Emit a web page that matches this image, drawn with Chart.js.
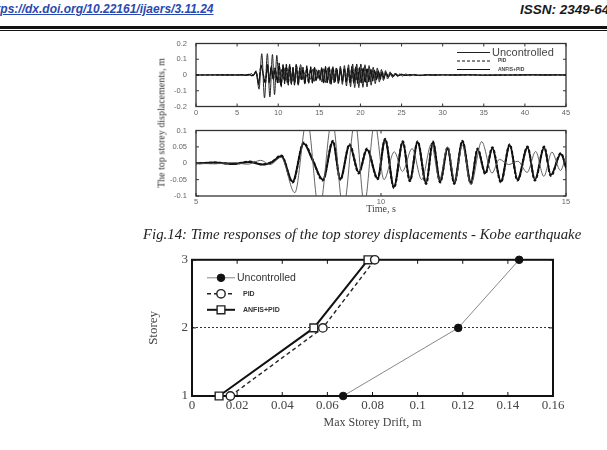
<!DOCTYPE html>
<html>
<head>
<meta charset="utf-8">
<script src="https://cdn.jsdelivr.net/npm/chart.js"></script>
<style>
  html, body { margin: 0; padding: 0; background: #fff; }
  body { width: 607px; height: 450px; position: relative; overflow: hidden; }
  .abs { position: absolute; white-space: nowrap; }
  #doi { left: -15px; top: 2px; font: italic bold 12px 'Liberation Sans', sans-serif; color: #2a49b0; text-decoration: underline; }
  #issn { left: 520px; top: 2px; font: italic bold 13.5px 'Liberation Sans', sans-serif; color: #1a1a1a; }
  .rule { left: 0; width: 607px; background: #111; }
  #ylabel { left: 161px; top: 123px; transform: translate(-50%, -50%) rotate(-90deg); font: 10px 'Liberation Serif', serif; color: #333; }
  #caption { left: 143px; top: 226px; font: italic 14.8px 'Liberation Serif', serif; color: #222; }
</style>
</head>
<body>
<div id="doi" class="abs">https://dx.doi.org/10.22161/ijaers/3.11.24</div>
<div id="issn" class="abs">ISSN: 2349-6495(P)</div>
<div class="abs rule" style="top:26px;height:3px"></div>
<div class="abs rule" style="top:30px;height:1px"></div>

<div class="abs" style="left:156px;top:30px"><canvas id="full" width="420" height="90"></canvas></div>
<div class="abs" style="left:156px;top:117px"><canvas id="zoom" width="420" height="98"></canvas></div>
<div id="ylabel" class="abs">The top storey displacements, m</div>
<div id="caption" class="abs">Fig.14: Time responses of the top storey displacements - Kobe earthquake</div>

<div class="abs" style="left:140px;top:248px"><canvas id="drift" width="430" height="184"></canvas></div>

<script>
// ---- top storey displacement, peaks (s, m) ----
const ctrlTime = [
  0, 2, 4, 5, 5.5, 6.0, 6.45, 6.8, 7.05, 7.31,
  7.61, 7.91, 8.15, 8.43, 8.70, 8.90, 9.15, 9.40, 9.62, 9.91,
  10.11, 10.35, 10.59, 10.78, 10.99, 11.22, 11.40, 11.60, 11.80, 11.98,
  12.20, 12.43, 12.61, 12.82, 13.01, 13.24, 13.48, 13.69, 13.96, 14.16,
  14.41, 14.59, 14.86, 15.08, 15.3, 15.52, 15.75, 15.98, 16.2, 16.43,
  16.66, 16.89, 17.12, 17.35, 17.58, 17.81, 18.04, 18.27, 18.5, 18.73,
  18.96, 19.19, 19.42, 19.65, 19.88, 20.11, 20.34, 20.57, 20.8, 21.03,
  21.26, 21.49, 21.72, 21.95, 22.18, 22.41, 22.64, 22.87, 23.1, 23.4,
  23.7, 24.0, 24.3, 24.6, 25.0, 25.5, 26.0, 27.0, 28.5, 30,
  33, 36, 40, 45
];
const anfisDisp = [
  0, 0.000, 0.001, 0, 0.002, -0.002, 0.004, -0.004, 0.003, 0.022,
  -0.056, 0.060, 0.010, -0.050, 0.066, -0.048, 0.055, -0.028, 0.042, -0.046,
  0.072, -0.072, 0.064, -0.052, 0.064, -0.060, 0.064, -0.056, 0.046, -0.060,
  0.066, -0.060, 0.042, -0.030, 0.046, -0.056, 0.055, -0.050, 0.048, -0.050,
  0.048, -0.036, 0.028, -0.030, 0.045, -0.050, 0.050, -0.045, 0.050, -0.055,
  0.050, -0.045, 0.040, -0.045, 0.040, -0.040, 0.040, -0.045, 0.045, -0.050,
  0.050, -0.050, 0.050, -0.050, 0.045, -0.050, 0.045, -0.045, 0.040, -0.040,
  0.035, -0.035, 0.030, -0.030, 0.025, -0.025, 0.020, -0.020, 0.016, -0.013,
  0.010, -0.008, 0.006, -0.005, 0.004, -0.003, 0.002, -0.002, 0.001, 0,
  0.001, -0.001, 0.001, 0
];
const pidDisp = [
  0, 0.000, 0.001, 0, 0.002, -0.002, 0.005, -0.004, 0.004, 0.024,
  -0.059, 0.063, 0.012, -0.053, 0.069, -0.051, 0.058, -0.031, 0.045, -0.049,
  0.075, -0.076, 0.067, -0.055, 0.067, -0.063, 0.067, -0.059, 0.049, -0.063,
  0.069, -0.063, 0.045, -0.033, 0.049, -0.059, 0.058, -0.053, 0.051, -0.053,
  0.051, -0.039, 0.031, -0.033, 0.047, -0.053, 0.053, -0.048, 0.052, -0.058,
  0.052, -0.048, 0.043, -0.047, 0.042, -0.043, 0.043, -0.048, 0.047, -0.053,
  0.053, -0.053, 0.052, -0.053, 0.048, -0.052, 0.047, -0.048, 0.042, -0.043,
  0.037, -0.037, 0.032, -0.032, 0.027, -0.027, 0.022, -0.021, 0.017, -0.014,
  0.011, -0.009, 0.007, -0.005, 0.004, -0.003, 0.002, -0.002, 0.001, 0,
  0.001, -0.001, 0.001, 0
];
const uncTime = [
  0, 2, 4, 5, 5.5, 6.0, 6.4, 6.75, 7.0, 7.3,
  7.67, 8.0, 8.33, 8.68, 8.98, 9.3, 9.55, 9.83, 10.08, 10.36,
  10.58, 10.84, 11.1, 11.36, 11.58, 11.8, 12.0, 12.2, 12.43, 12.72,
  13.0, 13.2, 13.45, 13.7, 13.95, 14.18, 14.4, 14.62, 14.85, 15.05,
  15.3, 15.55, 15.8, 16.05, 16.3, 16.55, 16.8, 17.05, 17.3, 17.55,
  17.8, 18.05, 18.3, 18.55, 18.8, 19.05, 19.3, 19.55, 19.8, 20.05,
  20.3, 20.55, 20.8, 21.05, 21.3, 21.55, 21.8, 22.05, 22.3, 22.55,
  22.8, 23.05, 23.3, 23.6, 23.9, 24.2, 24.5, 24.8, 25.1, 25.5,
  26, 26.6, 27.3, 28, 29, 30, 31.5, 33, 35, 37,
  39, 41, 42.5, 44, 45
];
const uncDisp = [
  0, 0.001, -0.001, 0, -0.002, 0.002, -0.003, 0.009, -0.004, 0.018,
  -0.090, 0.135, -0.145, 0.135, -0.140, 0.130, -0.125, 0.125, -0.050, 0.035,
  -0.025, 0.045, -0.050, 0.058, -0.050, 0.050, -0.055, 0.055, -0.065, 0.066,
  -0.030, 0.012, -0.004, 0.006, -0.028, 0.036, -0.040, 0.034, -0.022, 0.030,
  -0.045, 0.040, -0.050, 0.045, -0.055, 0.040, -0.050, 0.045, -0.055, 0.055,
  -0.060, 0.060, -0.070, 0.065, -0.075, 0.070, -0.080, 0.070, -0.080, 0.070,
  -0.078, 0.065, -0.075, 0.060, -0.065, 0.050, -0.055, 0.045, -0.045, 0.035,
  -0.035, 0.028, -0.025, 0.020, -0.016, 0.012, -0.010, 0.008, -0.007, 0.006,
  -0.005, 0.004, -0.004, 0.003, -0.003, 0.002, -0.002, 0.002, -0.002, 0.001,
  -0.001, 0.002, -0.002, 0.001, 0
];

const fullTimeTicks = [0, 5, 10, 15, 20, 25, 30, 35, 40, 45];
const fullDispTicks = [-0.2, -0.1, 0, 0.1, 0.2];
const zoomTimeTicks = [5, 10, 15];
const zoomDispTicks = [-0.1, -0.05, 0, 0.05, 0.1];

// ---- max storey drift (m) ----
const storeys = [1, 2, 3];
const driftUncontrolled = [0.067, 0.118, 0.145];
const driftPid = [0.017, 0.058, 0.081];
const driftAnfis = [0.012, 0.054, 0.078];
const driftTicks = [0, 0.02, 0.04, 0.06, 0.08, 0.1, 0.12, 0.14, 0.16];

const seriesNames = ['Uncontrolled', 'PID', 'ANFIS+PID'];

const pairs = (xs, ys) => xs.map((x, i) => ({ x, y: ys[i] }));
const fixedTicks = (list) => (scale) => { scale.ticks = list.map((v) => ({ value: v })); };

// box round the plot + inward tick marks on all four sides
const frameTicks = {
  id: 'frameTicks',
  beforeDatasetsDraw(chart, args, opts) {
    const { ctx, chartArea: a, scales } = chart;
    const len = opts.tickLen;
    ctx.save();
    ctx.strokeStyle = opts.color;
    ctx.lineWidth = 1;
    ctx.beginPath();
    scales.x.ticks.forEach((t) => {
      const px = scales.x.getPixelForValue(t.value);
      ctx.moveTo(px, a.bottom); ctx.lineTo(px, a.bottom - len);
      ctx.moveTo(px, a.top); ctx.lineTo(px, a.top + len);
    });
    scales.y.ticks.forEach((t) => {
      const py = scales.y.getPixelForValue(t.value);
      ctx.moveTo(a.left, py); ctx.lineTo(a.left + len, py);
      ctx.moveTo(a.right, py); ctx.lineTo(a.right - len, py);
    });
    ctx.stroke();
    ctx.lineWidth = opts.width;
    ctx.strokeRect(a.left, a.top, a.right - a.left, a.bottom - a.top);
    ctx.restore();
  },
};

// MATLAB style legend drawn inside the plot, no box
const insideLegend = {
  id: 'insideLegend',
  afterDraw(chart, args, opts) {
    if (!opts.fonts) return;
    const { ctx, chartArea: a } = chart;
    const x0 = opts.fromRight ? a.right - opts.x : a.left + opts.x;
    chart.data.datasets.forEach((ds, i) => {
      const y = a.top + opts.y + i * opts.rowGap;
      ctx.save();
      ctx.strokeStyle = ds.borderColor;
      ctx.lineWidth = opts.lineWidth || ds.borderWidth;
      ctx.setLineDash(ds.borderDash || []);
      ctx.beginPath();
      ctx.moveTo(x0, y);
      ctx.lineTo(x0 + opts.lineLen, y);
      ctx.stroke();
      ctx.setLineDash([]);
      if (ds.pointRadius) {
        ctx.fillStyle = ds.pointBackgroundColor;
        ctx.strokeStyle = ds.pointBorderColor;
        ctx.lineWidth = ds.pointBorderWidth;
        Chart.helpers.drawPoint(ctx, {
          pointStyle: ds.pointStyle, radius: ds.pointRadius, rotation: 0, borderWidth: ds.pointBorderWidth,
        }, x0 + opts.lineLen / 2, y);
      }
      ctx.fillStyle = opts.textColor;
      ctx.font = opts.fonts[i];
      ctx.textBaseline = 'middle';
      ctx.fillText(ds.label, x0 + opts.lineLen + opts.gaps[i], y);
      ctx.restore();
    });
  },
};

const smallTick = { family: 'Liberation Sans', size: 7.5 };

function timeChart(id, cfg) {
  return new Chart(document.getElementById(id), {
    type: 'line',
    data: {
      datasets: [
        { label: seriesNames[0], data: pairs(uncTime, uncDisp), borderColor: cfg.uncColor, borderWidth: cfg.uncWidth },
        { label: seriesNames[1], data: pairs(ctrlTime, pidDisp), borderColor: '#111', borderWidth: cfg.ctrlWidth, borderDash: [3, 2] },
        { label: seriesNames[2], data: pairs(ctrlTime, anfisDisp), borderColor: '#111', borderWidth: cfg.ctrlWidth },
      ],
    },
    options: {
      responsive: false,
      animation: false,
      events: [],
      layout: { padding: { top: 6, right: 10, left: 0, bottom: 0 } },
      elements: { point: { radius: 0 }, line: { cubicInterpolationMode: 'monotone' } },
      scales: {
        x: {
          type: 'linear',
          min: cfg.xTicks[0],
          max: cfg.xTicks[cfg.xTicks.length - 1],
          afterBuildTicks: fixedTicks(cfg.xTicks),
          afterFit: (s) => { s.height = cfg.xHeight; },
          grid: { display: false, drawTicks: false },
          border: { display: false },
          ticks: { font: smallTick, color: '#666', padding: cfg.xPad, autoSkip: false, maxRotation: 0, callback: (v) => String(v) },
          title: cfg.xTitle
            ? { display: true, text: cfg.xTitle, font: { family: 'Liberation Serif', size: 10 }, color: '#444', padding: 0 }
            : { display: false },
        },
        y: {
          min: cfg.yTicks[0],
          max: cfg.yTicks[cfg.yTicks.length - 1],
          afterBuildTicks: fixedTicks(cfg.yTicks),
          afterFit: (s) => { s.width = 40; },
          grid: { display: false, drawTicks: false },
          border: { display: false },
          ticks: { font: smallTick, color: '#666', padding: 9, autoSkip: false, callback: (v) => String(v) },
        },
      },
      plugins: {
        legend: { display: false },
        tooltip: { enabled: false },
        frameTicks: { color: '#333', width: 1.3, tickLen: 3 },
        insideLegend: cfg.legend || {},
      },
    },
    plugins: [frameTicks, insideLegend],
  });
}

timeChart('full', {
  xTicks: fullTimeTicks, yTicks: fullDispTicks, xHeight: 12, xPad: 2,
  uncColor: '#222', uncWidth: 1, ctrlWidth: 1.2,
  legend: {
    fromRight: true, x: 109, y: 9, rowGap: 8.5, lineLen: 33, lineWidth: 1,
    gaps: [2, 8, 8], textColor: '#444',
    fonts: ['11px Liberation Sans', 'bold 5px Liberation Sans', 'bold 5px Liberation Sans'],
  },
});

timeChart('zoom', {
  xTicks: zoomTimeTicks, yTicks: zoomDispTicks, xHeight: 19, xPad: 1,
  uncColor: '#555', uncWidth: 0.9, ctrlWidth: 2, xTitle: 'Time, s',
});

// ---- Max storey drift ----
new Chart(document.getElementById('drift'), {
  type: 'line',
  data: {
    datasets: [
      {
        label: seriesNames[0], data: pairs(driftUncontrolled, storeys),
        borderColor: '#888', borderWidth: 1,
        pointStyle: 'circle', pointRadius: 3.8, pointBackgroundColor: '#111', pointBorderColor: '#111', pointBorderWidth: 1,
      },
      {
        label: seriesNames[1], data: pairs(driftPid, storeys),
        borderColor: '#222', borderWidth: 1.4, borderDash: [4, 3],
        pointStyle: 'circle', pointRadius: 4.2, pointBackgroundColor: '#fff', pointBorderColor: '#222', pointBorderWidth: 1.4,
      },
      {
        label: seriesNames[2], data: pairs(driftAnfis, storeys),
        borderColor: '#111', borderWidth: 2,
        pointStyle: 'rect', pointRadius: 5.5, pointBackgroundColor: '#fff', pointBorderColor: '#222', pointBorderWidth: 1.4,
      },
    ],
  },
  options: {
    responsive: false,
    animation: false,
    events: [],
    clip: false,
    layout: { padding: { top: 11, right: 17, left: 0, bottom: 0 } },
    scales: {
      x: {
        type: 'linear',
        min: 0,
        max: 0.16,
        afterBuildTicks: fixedTicks(driftTicks),
        afterFit: (s) => { s.height = 36; },
        grid: { display: false, drawTicks: false },
        border: { display: false },
        ticks: { font: { family: 'Liberation Sans Narrow', size: 13 }, color: '#444', padding: 2, autoSkip: false, maxRotation: 0, callback: (v) => String(v) },
        title: { display: true, text: 'Max Storey Drift, m', font: { family: 'Liberation Serif', size: 12 }, color: '#444', padding: { bottom: 1.8 } },
      },
      y: {
        min: 1,
        max: 3,
        afterBuildTicks: fixedTicks(storeys),
        afterFit: (s) => { s.width = 52; },
        grid: { drawTicks: false, lineWidth: 1, color: (c) => (c.tick && c.tick.value === 2 ? '#333' : 'rgba(0,0,0,0)') },
        border: { display: false, dash: [2, 2] },
        ticks: { font: { family: 'Liberation Sans Narrow', size: 13 }, color: '#444', padding: 4, autoSkip: false, callback: (v) => String(v) },
        title: { display: true, text: 'Storey', font: { family: 'Liberation Serif', size: 13 }, color: '#444', padding: { top: 6 } },
      },
    },
    plugins: {
      legend: { display: false },
      tooltip: { enabled: false },
      frameTicks: { color: '#111', width: 2, tickLen: 4 },
      insideLegend: {
        fromRight: false, x: 15, y: 18, rowGap: 16, lineLen: 28,
        gaps: [2, 8, 8], textColor: '#333',
        fonts: ['10.5px Liberation Sans', 'bold 7px Liberation Sans', 'bold 7px Liberation Sans'],
      },
    },
  },
  plugins: [frameTicks, insideLegend],
});
</script>
</body>
</html>
